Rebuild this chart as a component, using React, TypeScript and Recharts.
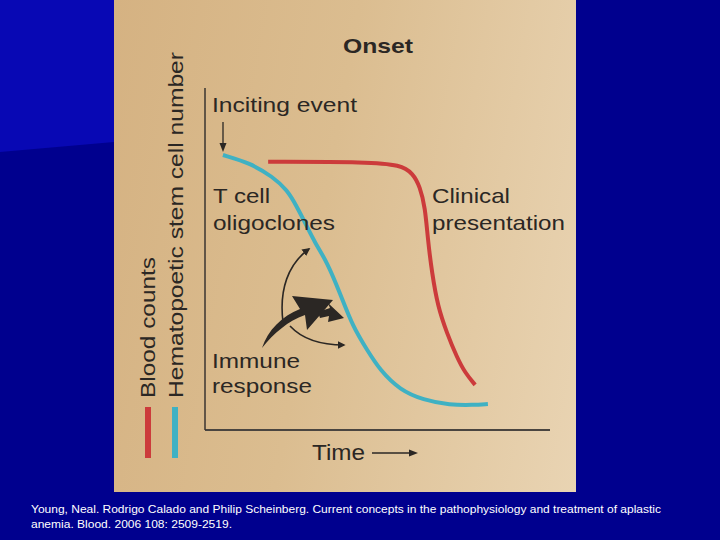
import React from "react";
import { LineChart, Line, XAxis, YAxis, ReferenceLine } from "recharts";

// Hematopoietic stem cell number (cyan curve): [time, level]
const stemTime = [5.2, 13.0, 19.7, 23.8, 26.7, 29.6, 31.9, 35.4, 39.1, 42.9, 47.0, 50.7, 56.5, 63.2, 71.0, 77.7, 82.0];
const stemLevel = [80.4, 78.1, 74.0, 70.2, 65.2, 59.4, 54.7, 49.1, 40.1, 30.1, 23.4, 17.5, 11.7, 8.8, 7.3, 7.3, 7.6];

// Blood counts (red curve)
const bloodTime = [18.3, 47.8, 56.5, 60.3, 62.3, 63.8, 64.6, 65.8, 67.5, 70.1, 73.0, 75.4, 78.3];
const bloodLevel = [78.4, 78.4, 77.5, 75.1, 71.1, 65.2, 55.6, 45.9, 36.0, 28.4, 21.3, 16.7, 13.2];

const stemData = stemTime.map((t, i) => ({ t, v: stemLevel[i] }));
const bloodData = bloodTime.map((t, i) => ({ t, v: bloodLevel[i] }));

const FONT = '"Liberation Sans", Arial, Helvetica, sans-serif';
const INK = "#2b2724";
const CYAN = "#3fb1c3";
const RED = "#cc3b3b";

export default function App() {
  return (
    <div style={{ position: "absolute", left: 0, top: 0, width: 720, height: 540, background: "#00008e", overflow: "hidden" }}>
      <svg width={720} height={540} style={{ position: "absolute", left: 0, top: 0 }}>
        <polygon points="0,0 114,0 114,142 0,152" fill="#0808b4" />
      </svg>
      <div
        style={{
          position: "absolute",
          left: 114,
          top: 0,
          width: 462,
          height: 492,
          background: "linear-gradient(100deg, #d5b282 0%, #dbbd90 45%, #e9d4b3 100%)",
        }}
      />
      <div style={{ position: "absolute", left: 0, top: 0 }}>
        <LineChart width={720} height={540} margin={{ top: 88, left: 205, right: 170, bottom: 110 }}>
          <XAxis dataKey="t" type="number" domain={[0, 100]} hide />
          <YAxis dataKey="v" type="number" domain={[0, 100]} hide />
          <ReferenceLine y={0} stroke="#4a4540" strokeWidth={2} ifOverflow="visible" />
          <ReferenceLine x={0} stroke="#3a3530" strokeWidth={1.5} ifOverflow="visible" />
          <Line data={stemData} dataKey="v" type="basis" stroke={CYAN} strokeWidth={4} dot={false} isAnimationActive={false} />
          <Line data={bloodData} dataKey="v" type="basis" stroke={RED} strokeWidth={4} dot={false} isAnimationActive={false} />
        </LineChart>
      </div>
      <svg width={720} height={540} style={{ position: "absolute", left: 0, top: 0, fontFamily: FONT }}>
        <defs>
          <marker id="ah" viewBox="0 0 10 10" refX="8" refY="5" markerWidth="5" markerHeight="5" orient="auto">
            <path d="M0,0 L10,5 L0,10 Z" fill={INK} />
          </marker>
        </defs>
        <g fill={INK}>
          <text x={343} y={53} fontSize={21} fontWeight="bold" textLength={70} lengthAdjust="spacingAndGlyphs">Onset</text>
          <text x={212} y={112} fontSize={21} textLength={145} lengthAdjust="spacingAndGlyphs">Inciting event</text>
          <text x={213} y={203} fontSize={21} textLength={57} lengthAdjust="spacingAndGlyphs">T cell</text>
          <text x={213} y={230} fontSize={21} textLength={122} lengthAdjust="spacingAndGlyphs">oligoclones</text>
          <text x={432} y={203} fontSize={21} textLength={78} lengthAdjust="spacingAndGlyphs">Clinical</text>
          <text x={432} y={230} fontSize={21} textLength={133} lengthAdjust="spacingAndGlyphs">presentation</text>
          <text x={212} y={368} fontSize={21} textLength={88} lengthAdjust="spacingAndGlyphs">Immune</text>
          <text x={212} y={393} fontSize={21} textLength={100} lengthAdjust="spacingAndGlyphs">response</text>
          <text x={312} y={460} fontSize={22} textLength={53} lengthAdjust="spacingAndGlyphs">Time</text>
          <text transform="translate(155,398) rotate(-90)" fontSize={21} textLength={141} lengthAdjust="spacingAndGlyphs">Blood counts</text>
          <text transform="translate(183,398) rotate(-90)" fontSize={21} textLength={346} lengthAdjust="spacingAndGlyphs">Hematopoetic stem cell number</text>
        </g>
        {/* legend swatches */}
        <rect x={145} y={407} width={6} height={51} fill={RED} />
        <rect x={172} y={407} width={6} height={51} fill={CYAN} />
        {/* inciting arrow */}
        <line x1={223} y1={122} x2={223} y2={145} stroke={INK} strokeWidth={1.3} />
        <polygon points="219.5,143 226.5,143 223,152" fill={INK} />
        {/* time arrow */}
        <line x1={372} y1={453} x2={411} y2={453} stroke={INK} strokeWidth={1.3} />
        <polygon points="409,449.5 418,453 409,456.5" fill={INK} />
        {/* immune response arrows */}
        <path d="M283,322 C279,290 288,264 309,249" fill="none" stroke={INK} strokeWidth={1.6} markerEnd="url(#ah)" />
        <path d="M290,326 C303,340 322,345 344,345" fill="none" stroke={INK} strokeWidth={1.6} markerEnd="url(#ah)" />
        <path
          d="M262,348 C268,330 282,316 300,309 L292,296 L333,300 L307,330 L305,315 C288,321 274,333 262,348 Z"
          fill={INK}
        />
        <path d="M318,312 L330,308 L328,303 L344,318 L328,322 L329,316 L320,318 Z" fill={INK} />
      </svg>
      <svg width={720} height={540} style={{ position: "absolute", left: 0, top: 0, fontFamily: FONT }}>
        <text x={31} y={513} fontSize={11} fill="#ffffff" textLength={630} lengthAdjust="spacingAndGlyphs">
          Young, Neal. Rodrigo Calado and Philip Scheinberg. Current concepts in the pathophysiology and treatment of aplastic
        </text>
        <text x={31} y={528} fontSize={11} fill="#ffffff" textLength={201} lengthAdjust="spacingAndGlyphs">
          anemia. Blood. 2006 108: 2509-2519.
        </text>
      </svg>
    </div>
  );
}
